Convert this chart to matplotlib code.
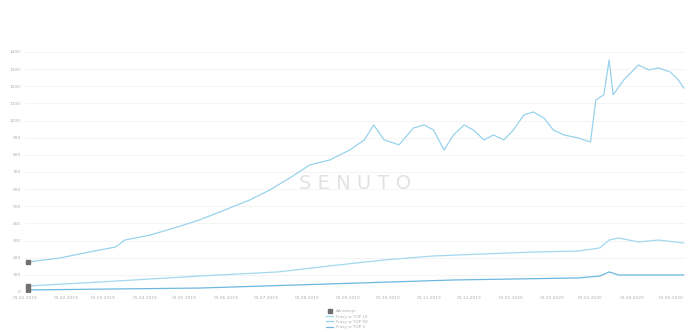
import matplotlib.pyplot as plt
from matplotlib.lines import Line2D
import pandas as pd

# TOP 50 series
top50_dates = ["2019-01-03", "2019-01-27", "2019-02-26", "2019-03-10", "2019-03-17", "2019-04-05",
               "2019-04-23", "2019-05-12", "2019-05-31", "2019-06-19", "2019-07-04", "2019-07-19",
               "2019-08-03", "2019-08-18", "2019-09-02", "2019-09-13", "2019-09-20", "2019-09-28",
               "2019-10-09", "2019-10-20", "2019-10-28", "2019-11-04", "2019-11-12", "2019-11-19",
               "2019-11-27", "2019-12-04", "2019-12-12", "2019-12-19", "2019-12-27", "2020-01-03",
               "2020-01-11", "2020-01-18", "2020-01-26", "2020-02-02", "2020-02-10", "2020-02-21",
               "2020-03-01", "2020-03-05", "2020-03-11", "2020-03-15", "2020-03-18", "2020-03-26",
               "2020-04-06", "2020-04-14", "2020-04-21", "2020-04-30", "2020-05-06", "2020-05-10"]
top50_vals = [175, 198, 245, 262, 303, 332,
              373, 420, 478, 537, 595, 665,
              741, 770, 828, 887, 974, 887,
              858, 957, 974, 945, 828, 916,
              974, 945, 887, 916, 887, 945,
              1033, 1050, 1015, 945, 916, 898,
              875, 1120, 1150, 1353, 1150, 1237,
              1324, 1295, 1307, 1283, 1237, 1190]

# TOP 10 series
top10_dates = ["2019-01-03", "2019-02-26", "2019-05-12", "2019-07-10", "2019-08-18", "2019-09-28",
               "2019-11-04", "2019-12-12", "2020-01-18", "2020-02-21", "2020-03-08", "2020-03-15",
               "2020-03-22", "2020-04-06", "2020-04-21", "2020-05-10"]
top10_vals = [35, 58, 93, 117, 152, 187,
              210, 222, 233, 239, 257, 303,
              315, 292, 303, 286]

# TOP 3 series
top3_dates = ["2019-01-03", "2019-05-12", "2019-08-18", "2019-11-19", "2020-02-21", "2020-03-08",
              "2020-03-15", "2020-03-22", "2020-05-10"]
top3_vals = [12, 23, 47, 70, 82, 93, 117, 99, 99]

tick_dates = pd.date_range("2019-01-01", "2020-05-01", freq="MS")
tick_labels = [d.strftime("%d.%m.%Y") for d in tick_dates]
y_ticks = list(range(0, 1500, 100))

fig = plt.figure(figsize=(6.94, 3.32), dpi=100)
ax = fig.add_axes([0.036, 0.1205, 0.951, 0.723])

series = [
    (top10_dates, top10_vals, "#a3d8ef", "Frazy w TOP 10"),
    (top50_dates, top50_vals, "#98d3ec", "Frazy w TOP 50"),
    (top3_dates, top3_vals, "#6db8e0", "Frazy w TOP 3"),
]
for d, v, c, lab in series:
    ax.plot(pd.to_datetime(d), v, color=c, lw=0.9, label=lab)
    ax.plot(pd.to_datetime(d[:1]), v[:1], marker="s", ms=3.5, color="#707070", lw=0)

ax.set_xlim(pd.Timestamp("2019-01-01"), pd.Timestamp("2020-05-11"))
ax.set_ylim(0, 1400)
ax.set_xticks(tick_dates)
ax.set_xticklabels(tick_labels)
ax.set_yticks(y_ticks)
ax.tick_params(axis="both", labelsize=3.2, colors="#b0b0b0", length=0, pad=3)
ax.grid(True, axis="y", color="#f2f2f2", lw=0.6)
for s in ax.spines.values():
    s.set_visible(False)
ax.axhline(0, color="#dddddd", lw=0.6)

# watermark
ax.text(0.5, 0.45, "S E N U T O", transform=ax.transAxes, fontsize=14, color="#e2e2e2",
        ha="center", va="center")

handles = [Line2D([], [], marker="s", color="#707070", lw=0, ms=3.5, label="Adnotacje")]
handles += [Line2D([], [], color=c, lw=0.9, label=lab) for _, _, c, lab in series]
fig.legend(handles=handles, loc="lower center", bbox_to_anchor=(0.5, 0.0), ncol=1,
           fontsize=3, frameon=False, labelcolor="#b0b0b0", handlelength=1.5,
           labelspacing=0.3, borderpad=0.2)

fig.savefig("out.png", dpi=100, facecolor="white")
